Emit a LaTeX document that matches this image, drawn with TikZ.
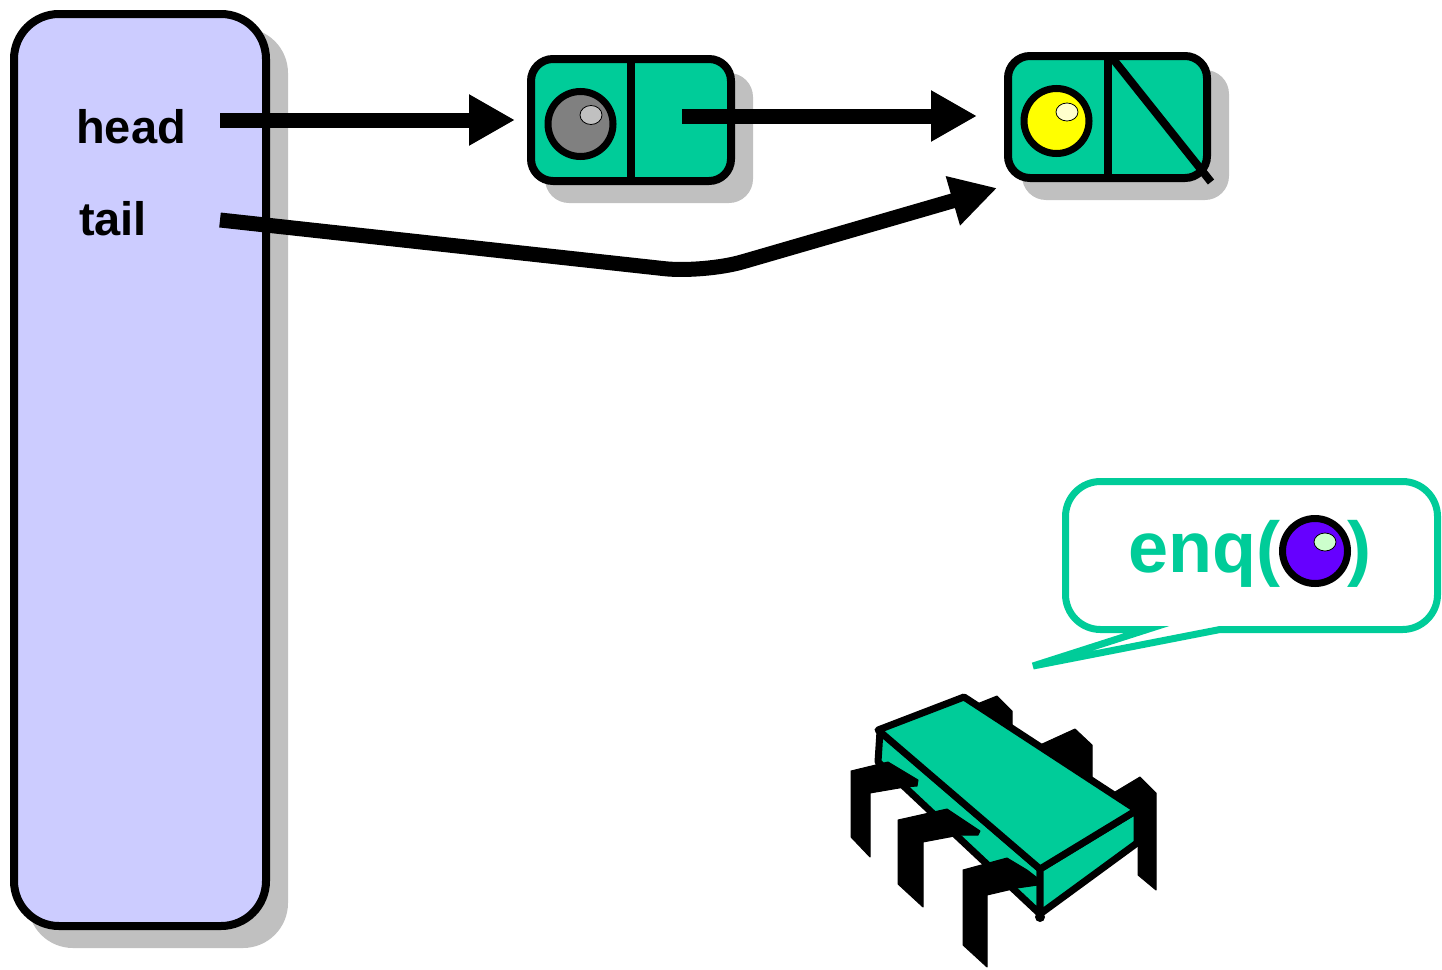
\documentclass[tikz,border=0pt]{standalone}
\usepackage{fontspec}
\setmainfont{Liberation Sans}
\usetikzlibrary{arrows.meta}
\definecolor{qfill}{HTML}{CCCCFF}
\definecolor{nodegreen}{HTML}{00CC99}
\definecolor{shadowgray}{HTML}{C0C0C0}
\definecolor{itemgray}{HTML}{808080}
\definecolor{shinegray}{HTML}{C0C0C0}
\definecolor{itemyellow}{HTML}{FFFF00}
\definecolor{shineyellow}{HTML}{FFFFCC}
\definecolor{itempurple}{HTML}{6600FF}
\definecolor{shinegreen}{HTML}{CCFFCC}
\begin{document}
\begin{tikzpicture}[x=1pt,y=-1pt,
  shadowbox/.style={fill=shadowgray},
  queuebox/.style={draw=black, line width=8pt, fill=qfill, rounded corners=45pt,
    minimum width=252pt, minimum height=912pt, inner sep=0pt},
  cellbox/.style={draw=black, line width=8pt, fill=nodegreen, rounded corners=22pt,
    minimum width=200pt, minimum height=122pt, inner sep=0pt},
  item/.style={circle, draw=black, line width=7pt, minimum size=65pt, inner sep=0pt},
  shine/.style={draw=black, line width=0.8pt},
  field/.style={anchor=base, inner sep=0pt, font=\fontsize{47}{56}\selectfont\bfseries},
  pointer/.style={line width=15pt, -{Triangle[length=46pt,width=48pt]}},
  saying/.style={draw=nodegreen, line width=7pt, fill=white, line join=miter},
  saytext/.style={anchor=base west, inner sep=0pt, text=nodegreen,
    font=\fontsize{72}{80}\selectfont\bfseries},
  bugbody/.style={draw=black, line width=7pt, line join=round, fill=nodegreen},
  bugleg/.style={draw=black, line width=1pt, line join=round, fill=black}]
\useasboundingbox (0,0) rectangle (1442,969);

% queue object with its two fields
\fill[shadowbox, rounded corners=45pt] (28,28) rectangle (288,948);
\node[queuebox] (queue) at (140,470) {};
\node[field] (head) at (131,143) {head};
\node[field] (tail) at (113,235) {tail};

% first list node (gray item)
\fill[shadowbox, rounded corners=24pt] (545,73) rectangle (753,203);
\node[cellbox] (n1) at (631,120) {};
\draw[line width=8pt] (n1.north) -- (n1.south);
\node[item, fill=itemgray] (i1) at (580.5,124) {};
\filldraw[shine, fill=shinegray] (591,115) ellipse (11 and 9.5);

% second list node (yellow item, null next)
\fill[shadowbox, rounded corners=24pt] (1022,70) rectangle (1229,200);
\node[cellbox, minimum width=199pt] (n2) at (1107.5,117) {};
\draw[line width=8pt] (n2.north) -- (n2.south);
\draw[line width=8pt, shorten <=6pt] (n2.north) -- (n2.south east);
\node[item, fill=itemyellow] (i2) at (1056.5,121) {};
\filldraw[shine, fill=shineyellow] (1067,112) ellipse (11 and 9);

% pointers
\coordinate (headptr) at (220,120);
\coordinate (nextptr) at (682,116);
\coordinate (tailptr) at (220,220);
\coordinate (tailend) at (997,188);
\draw[pointer, shorten >=12pt] (headptr) -- (headptr -| n1.west);
\draw[pointer, shorten >=27pt] (nextptr) -- (nextptr -| n2.west);
\draw[pointer, rounded corners=40pt] (tailptr) -- (704,273) -- (tailend);

% speech bubble
\draw[saying] (1147,629.5) -- (1033,666) -- (1220,629.5)
  [rounded corners=35pt] -- (1437.5,629.5) -- (1437.5,481.5) -- (1065.5,481.5)
  -- (1065.5,629.5) [sharp corners] -- cycle;
\node[saytext] (enq) at (1128,572) {enq(};
\node[item, fill=itempurple] (i3) at (1315,551) {};
\filldraw[shine, fill=shinegreen] (1325,542) ellipse (11 and 9);
\node[saytext] (close) at (1347,572) {)};

% thread: legs behind the body
\filldraw[bugleg] (972,706) -- (997,696) -- (1012,711) -- (1012,728) -- (990,716) -- cycle;
\filldraw[bugleg] (1040,745) -- (1075,729) -- (1092,745) -- (1092,778) -- (1070,772) -- cycle;
\filldraw[bugleg] (1115,792) -- (1140,777) -- (1156,793) -- (1156,890) -- (1138,875) -- (1138,812) -- cycle;
% thread body
\filldraw[bugbody] (880,731) -- (1040,869) -- (1040,914) -- (878,762) -- cycle;
\filldraw[bugbody] (1040,869) -- (1137,810) -- (1137,843) -- (1040,914) -- cycle;
\filldraw[bugbody] (878,730) -- (964,697) -- (1137,810) -- (1040,869) -- cycle;
% thread: front legs
\filldraw[bugleg] (851,771) -- (888,762) -- (918,780) -- (917,786) -- (905,787) -- (870,793)
  -- (870,857) -- (851,837) -- cycle;
\filldraw[bugleg] (898,820) -- (947,809) -- (980,831) -- (978,835) -- (960,835) -- (923,842)
  -- (923,907) -- (898,884) -- cycle;
\filldraw[bugleg] (963,870) -- (1007,858) -- (1027,870) -- (1040,880) -- (1038,885) -- (1017,888)
  -- (987,895) -- (987,967) -- (963,945) -- cycle;
\fill (1040,917) circle (5);
\end{tikzpicture}
\end{document}
